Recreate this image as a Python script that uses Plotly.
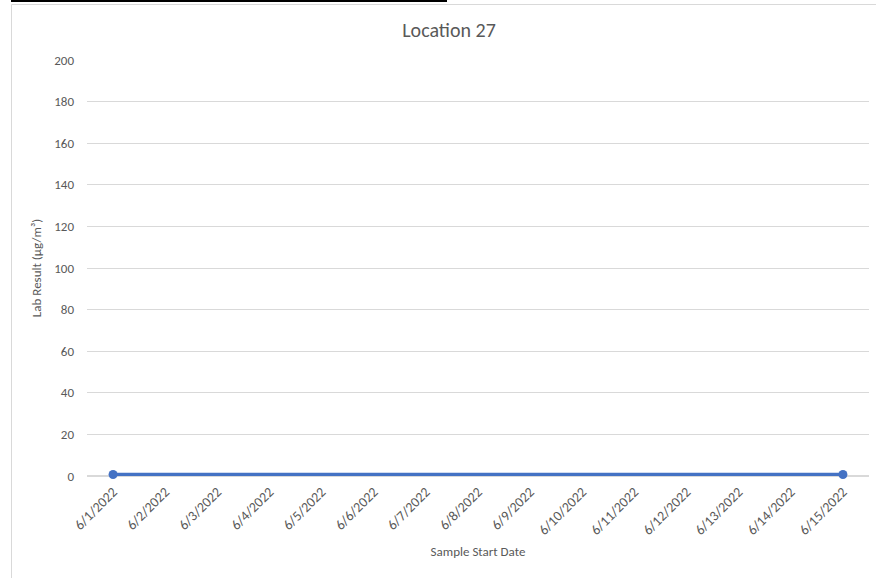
import plotly.graph_objects as go

dates = ["6/1/2022", "6/2/2022", "6/3/2022", "6/4/2022", "6/5/2022", "6/6/2022", "6/7/2022",
         "6/8/2022", "6/9/2022", "6/10/2022", "6/11/2022", "6/12/2022", "6/13/2022",
         "6/14/2022", "6/15/2022"]
# only first and last dates have a lab result; the rest are gaps
results = [0.7, None, None, None, None, None, None, None, None, None, None, None, None, None, 0.7]
y_ticks = [0, 20, 40, 60, 80, 100, 120, 140, 160, 180, 200]

W, H = 876, 578
L, R, T, B = 87, 7, 60, 102
pw, ph = W - L - R, H - T - B

def px(x):
    return (x - L) / pw

def py(y):
    return (H - B - y) / ph

font = "Calibri, Lato, 'Open Sans', sans-serif"
grey = "#595959"

fig = go.Figure()
fig.add_trace(go.Scatter(x=dates, y=results, mode="lines+markers", connectgaps=True,
                         cliponaxis=False,
                         line=dict(color="#4472C4", width=3.5),
                         marker=dict(color="#4472C4", size=9)))

fig.update_layout(
    width=W, height=H,
    margin=dict(l=L, r=R, t=T, b=B),
    paper_bgcolor="white", plot_bgcolor="white",
    showlegend=False,
    font=dict(family=font, color=grey, size=13),
    title=dict(text="Location 27", xref="container", x=449 / W, xanchor="center",
               yref="container", y=1 - 30 / H, yanchor="middle",
               font=dict(size=20, color=grey)),
    xaxis=dict(type="category", range=[-0.5, len(dates) - 0.5], tickangle=-45,
               showgrid=False, zeroline=False, showline=False, ticks="",
               tickfont=dict(size=14, color=grey), ticklabelstandoff=4,
               title=dict(text="Sample Start Date", font=dict(size=13, color=grey), standoff=9)),
    yaxis=dict(range=[0, 200], tickvals=y_ticks, showgrid=True, gridcolor="#D9D9D9",
               gridwidth=1, zeroline=True, zerolinecolor="#D9D9D9", zerolinewidth=2,
               showline=False, ticks="", tickfont=dict(size=13, color=grey),
               ticklabelstandoff=12,
               title=dict(text="Lab Result (µg/m³)", font=dict(size=13, color=grey), standoff=9)),
)

# chart frame and the black strip along the top
fig.add_shape(type="rect", xref="paper", yref="paper", x0=px(11.5), x1=px(W + 5),
              y0=py(H + 5), y1=py(4.5), line=dict(color="#D9D9D9", width=1), layer="below")
fig.add_shape(type="rect", xref="paper", yref="paper", x0=px(11), x1=px(447),
              y0=py(2), y1=py(0), line=dict(width=0), fillcolor="black")

fig.write_html("out.html", config={"displayModeBar": False},
               post_script="document.body.style.margin='0';")
